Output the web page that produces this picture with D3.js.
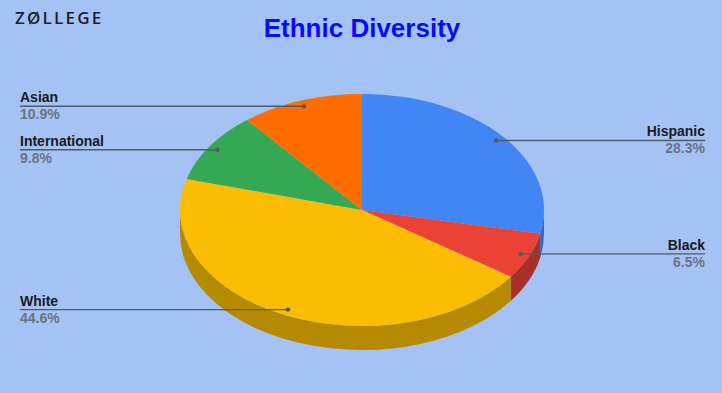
<!DOCTYPE html>
<html>
<head>
<meta charset="utf-8">
<script src="https://cdn.jsdelivr.net/npm/d3@7"></script>
<style>
  html, body { margin: 0; padding: 0; background: #a4c2f4; }
  svg { display: block; font-family: "Liberation Sans", Arial, sans-serif; }
</style>
</head>
<body>
<svg id="chart" width="722" height="393"></svg>
<script>
// data
const categories = ["Hispanic", "Black", "White", "International", "Asian"];
const values = [28.3, 6.5, 44.6, 9.8, 10.9];
const colors = ["#4285f4", "#ea4335", "#fbbc04", "#34a853", "#ff6d01"];
const sideColors = ["#3469c2", "#a8302a", "#b58a00", "#25803f", "#c25200"];
// which side each label sits on
const labelSide = ["right", "right", "left", "left", "left"];

const W = 722, H = 393;
const cx = 362, cy = 210, rx = 182, ry = 116, depth = 24;

const svg = d3.select("#chart");

svg.append("rect").attr("width", W).attr("height", H).attr("fill", "#a4c2f4");

// logo
svg.append("text")
  .attr("x", 15).attr("y", 24)
  .attr("font-size", 17)
  .attr("font-weight", 600)
  .attr("letter-spacing", 2.2)
  .attr("fill", "#1e1e24")
  .attr("font-family", "'Open Sans', sans-serif")
  .text("ZØLLEGE");

// title
svg.append("text")
  .attr("x", cx).attr("y", 37)
  .attr("text-anchor", "middle")
  .attr("font-size", 26)
  .attr("font-weight", "bold")
  .attr("fill", "#0a0aff")
  .text("Ethnic Diversity");

const pie = d3.pie().sort(null).startAngle(0).endAngle(2 * Math.PI);
const arcs = pie(values);

// point on ellipse for angle measured clockwise from 12 o'clock
const pt = (a, dy = 0) => [cx + rx * Math.sin(a), cy - ry * Math.cos(a) + dy];

// side walls (only the front half, angles between PI/2 and 3PI/2)
const sides = svg.append("g");
arcs.forEach((d, i) => {
  const a0 = Math.max(d.startAngle, Math.PI / 2);
  const a1 = Math.min(d.endAngle, 3 * Math.PI / 2);
  if (a1 <= a0) return;
  const p0 = pt(a0), p1 = pt(a1), q1 = pt(a1, depth), q0 = pt(a0, depth);
  const large = (a1 - a0) > Math.PI ? 1 : 0;
  const dstr = `M${p0}A${rx},${ry} 0 ${large} 1 ${p1}L${q1}A${rx},${ry} 0 ${large} 0 ${q0}Z`;
  sides.append("path")
    .attr("d", dstr)
    .attr("fill", sideColors[i]);
});

// top face
const arc = d3.arc().innerRadius(0).outerRadius(rx);
svg.append("g")
  .attr("transform", `translate(${cx},${cy}) scale(1,${ry / rx})`)
  .selectAll("path")
  .data(arcs)
  .join("path")
    .attr("d", arc)
    .attr("fill", (d, i) => colors[i]);

// leader lines and labels
const labels = svg.append("g");
arcs.forEach((d, i) => {
  const mid = (d.startAngle + d.endAngle) / 2;
  const [dx, dy] = [cx + 0.95 * rx * Math.sin(mid), cy - 0.95 * ry * Math.cos(mid)];
  const right = labelSide[i] === "right";
  const xEnd = right ? 705 : 20;
  labels.append("line")
    .attr("x1", dx).attr("y1", dy)
    .attr("x2", xEnd).attr("y2", dy)
    .attr("stroke", "#4f5a6b")
    .attr("stroke-width", 1.4);
  labels.append("circle")
    .attr("cx", dx).attr("cy", dy).attr("r", 2.2)
    .attr("fill", "#4f5a6b");
  labels.append("text")
    .attr("x", xEnd).attr("y", dy - 4)
    .attr("text-anchor", right ? "end" : "start")
    .attr("font-size", 14)
    .attr("font-weight", "bold")
    .attr("fill", "#1a1a1a")
    .text(categories[i]);
  labels.append("text")
    .attr("x", xEnd).attr("y", dy + 13)
    .attr("text-anchor", right ? "end" : "start")
    .attr("font-size", 14)
    .attr("font-weight", "bold")
    .attr("fill", "#6b7384")
    .text(values[i].toFixed(1) + "%");
});
</script>
</body>
</html>
